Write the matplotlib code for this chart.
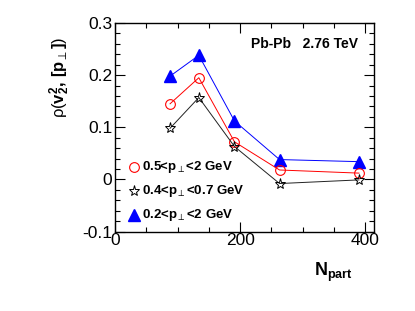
import matplotlib
matplotlib.use("Agg")
import matplotlib.pyplot as plt
from matplotlib.ticker import MultipleLocator

plt.rcParams['font.family'] = ['Liberation Sans', 'DejaVu Sans']
plt.rcParams['mathtext.fontset'] = 'custom'
plt.rcParams['mathtext.rm'] = 'Liberation Sans'
plt.rcParams['mathtext.bf'] = 'Liberation Sans:bold'
plt.rcParams['mathtext.it'] = 'Liberation Sans:italic'
plt.rcParams['mathtext.sf'] = 'DejaVu Sans'

npart = [88, 134, 191, 263, 390]
rho_05_2 = [0.145, 0.195, 0.072, 0.018, 0.012]
rho_04_07 = [0.098, 0.157, 0.063, -0.008, -0.001]
rho_02_2 = [0.198, 0.238, 0.112, 0.038, 0.034]

labels = [r"0.5<p$_{\mathsf{\perp}}$<2 GeV",
          r"0.4<p$_{\mathsf{\perp}}$<0.7 GeV",
          r"0.2<p$_{\mathsf{\perp}}$<2 GeV"]

fig = plt.figure(figsize=(4.15, 3.11), dpi=100)
ax = fig.add_axes([115/415, 1-231.5/311, (374-115)/415, (231.5-23)/311])

ax.plot(npart, rho_02_2, color='blue', lw=0.7, marker='^', ms=9, mfc='blue', mec='blue', zorder=2)
ax.plot(npart, rho_05_2, color='red', lw=0.7, marker='o', ms=7, mfc='none', mec='red', mew=0.8, zorder=3)
ax.plot(npart, rho_04_07, color='#222222', lw=0.7, marker='*', ms=8, mfc='none', mec='black', mew=0.7, zorder=4)

ax.set_xlim(0, 414)
ax.set_ylim(-0.1, 0.3)
ax.xaxis.set_major_locator(MultipleLocator(200))
ax.xaxis.set_minor_locator(MultipleLocator(50))
ax.yaxis.set_minor_locator(MultipleLocator(0.02))
ax.set_yticks([-0.1, 0, 0.1, 0.2, 0.3])
ax.set_yticklabels(['-0.1', '0', '0.1', '0.2', '0.3'])
ax.tick_params(which='both', direction='in', top=True, right=True, labelsize=12.5, width=0.8)
ax.tick_params(which='major', length=7)
ax.tick_params(which='minor', length=3.5)
ax.tick_params(axis='x', pad=1)
ax.tick_params(axis='y', pad=2)
for s in ax.spines.values():
    s.set_linewidth(1.0)

ax.set_ylabel(r"$\mathrm{\rho}(\mathbf{v}_{\mathbf{2}}^{\mathbf{2}}\mathbf{,\,[p}_{\mathsf{\perp}}\mathbf{]})$", fontsize=12)
ax.yaxis.set_label_coords(-0.165, 0.74)
ax.set_xlabel(r"$\mathbf{N_{part}}$", fontsize=13)
ax.xaxis.set_label_coords(0.845, -0.14)

ax.text(0.94, 0.9, "Pb-Pb   2.76 TeV", transform=ax.transAxes, ha='right', va='center',
        fontsize=10, fontweight='bold')

leg_y = [166.7, 190.7, 215]
mk = [dict(marker='o', ms=7, mfc='none', mec='red', mew=0.8),
      dict(marker='*', ms=8, mfc='none', mec='black', mew=0.7),
      dict(marker='^', ms=9, mfc='blue', mec='blue')]
for yy, lab, m in zip(leg_y, labels, mk):
    fy = 1 - yy / 311
    fig.add_artist(plt.Line2D([134/415], [fy], transform=fig.transFigure, ls='none', **m))
    fig.text(142/415, fy, lab, ha='left', va='center', fontsize=9.5, fontweight='bold')

fig.savefig("out.png", dpi=100)
